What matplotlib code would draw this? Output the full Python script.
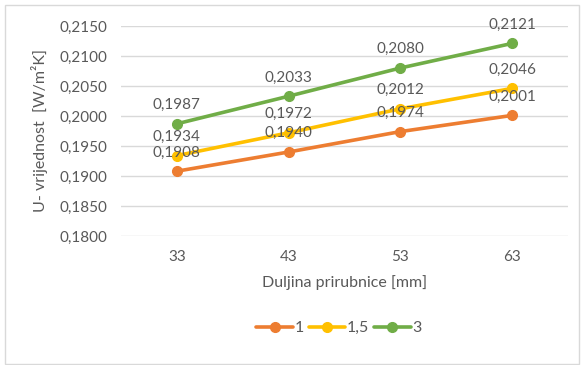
import matplotlib
matplotlib.use("Agg")
import matplotlib.pyplot as plt
from matplotlib.patches import Rectangle

categories = ["33", "43", "53", "63"]
series_names = ["1", "1,5", "3"]
s1 = [0.1908, 0.1940, 0.1974, 0.2001]
s15 = [0.1934, 0.1972, 0.2012, 0.2046]
s3 = [0.1987, 0.2033, 0.2080, 0.2121]
colors = ["#ED7D31", "#FFC000", "#70AD47"]
yticks = [0.1800, 0.1850, 0.1900, 0.1950, 0.2000, 0.2050, 0.2100, 0.2150]

plt.rcParams['font.family'] = ['Lato', 'DejaVu Sans']
txt = "#595959"

W, H = 584, 365
fig = plt.figure(figsize=(W / 100, H / 100), dpi=100)
fig.patches.append(Rectangle((5 / W, 1 / H), 574 / W, 359 / H, transform=fig.transFigure,
                             fill=False, edgecolor="#D9D9D9", linewidth=1))
ax = fig.add_axes([121 / W, 1 - 236 / H, (568 - 121) / W, (236 - 26) / H])

x = list(range(len(categories)))
for name, vals, c in zip(series_names, [s1, s15, s3], colors):
    ax.plot(x, vals, color=c, linewidth=2.6, marker='o', markersize=7, label=name,
            solid_capstyle='round')
    for xi, v in zip(x, vals):
        ax.annotate(f"{v:.4f}".replace('.', ','), (xi, v), xytext=(0, 8.5),
                    textcoords='offset points', ha='center', va='bottom',
                    fontsize=11, color=txt)

ax.set_xlim(-0.5, len(categories) - 0.5)
ax.set_ylim(0.18, 0.215)
ax.set_yticks(yticks)
ax.set_yticklabels([f"{t:.4f}".replace('.', ',') for t in yticks], fontsize=11, color=txt)
ax.set_xticks(x)
ax.set_xticklabels(categories, fontsize=11, color=txt)
ax.tick_params(length=0, pad=10)
ax.tick_params(axis='x', pad=10)
ax.grid(axis='y', color="#D9D9D9", linewidth=1)
ax.set_axisbelow(True)
for s in ax.spines.values():
    s.set_visible(False)

ax.set_xlabel("Duljina prirubnice [mm]", fontsize=11.5, color=txt, labelpad=8)
fig.text(40 / W, 1 - 131 / H, "U- vrijednost  [W/m²K]", rotation=90, ha='center', va='center',
         fontsize=11.5, color=txt)

leg = fig.legend(loc='center', bbox_to_anchor=(339 / W, 1 - 328 / H), ncol=3, frameon=False,
                 fontsize=11.5, handlelength=2.3, columnspacing=0.3, handletextpad=0.1,
                 labelcolor=txt)

fig.savefig("out.png", dpi=100)
